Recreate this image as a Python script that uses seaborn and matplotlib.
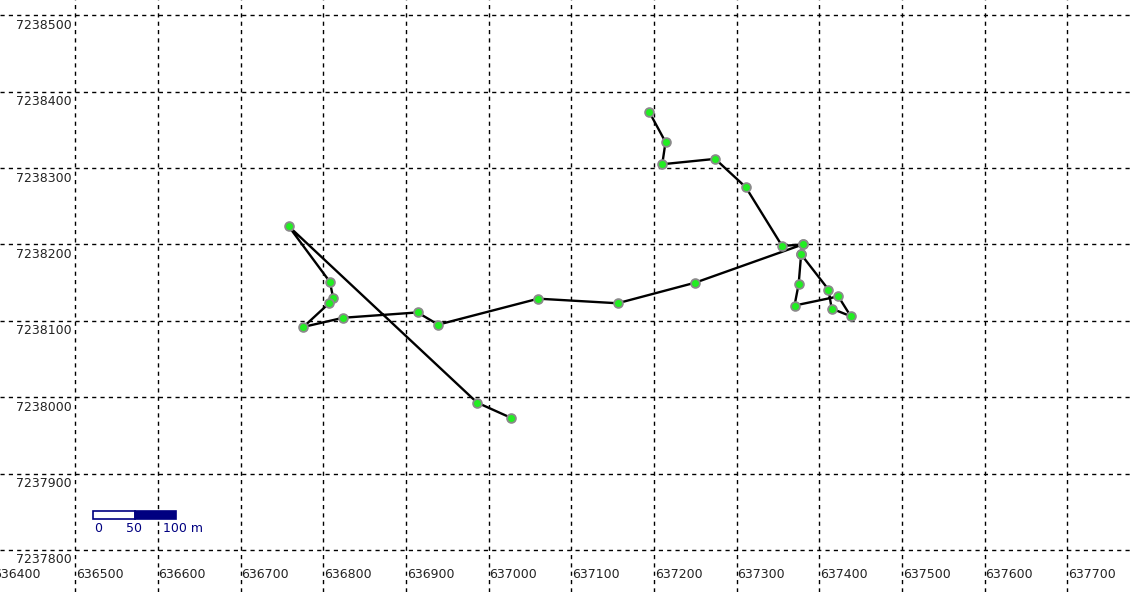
"""
plot.py - GPS track over a dashed UTM grid with a scale bar.
"""
import numpy as np
import pandas as pd
import matplotlib
matplotlib.use("Agg")
import matplotlib.pyplot as plt
from matplotlib.patches import Rectangle
import seaborn as sns

# track vertices (UTM easting / northing), in walking order
east = [637027, 636986, 636758, 636808, 636812, 636807, 636776, 636824,
        636914, 636939, 637060, 637156, 637250, 637380, 637378, 637375,
        637370, 637423, 637438, 637415, 637411, 637378, 637380, 637355,
        637311, 637274, 637210, 637214, 637194]
north = [7237973, 7237993, 7238224, 7238151, 7238130, 7238123, 7238092, 7238104,
         7238111, 7238095, 7238129, 7238123, 7238150, 7238200, 7238187, 7238148,
         7238120, 7238132, 7238106, 7238116, 7238141, 7238187, 7238200, 7238198,
         7238275, 7238312, 7238305, 7238334, 7238374]

x_ticks = list(range(636400, 637800, 100))
y_ticks = list(range(7237800, 7238600, 100))
scale_steps = [0, 50, 100]   # metres

NAVY = "#000080"

track = pd.DataFrame({"east": east, "north": north})

sns.set_style("white")
plt.rcParams["font.family"] = ["DejaVu Sans"]

fig = plt.figure(figsize=(11.31, 5.92), dpi=100)
ax = fig.add_axes([0, 0, 1, 1])

sns.lineplot(data=track, x="east", y="north", sort=False, estimator=None,
             color="black", linewidth=1.7, ax=ax)
sns.scatterplot(data=track, x="east", y="north", color="#22ee22",
                edgecolor="#8a8a8a", linewidth=1.3, s=40, zorder=3, ax=ax)

ax.set_xticks(x_ticks); ax.set_yticks(y_ticks)
ax.set_xlim(636409, 637777)
ax.set_ylim(7237745, 7238520)
ax.grid(True, color="black", linestyle=(0, (3, 3)), linewidth=1.0)
ax.tick_params(length=0, labelbottom=False, labelleft=False)
for s in ax.spines.values():
    s.set_visible(False)
ax.set_xlabel(""); ax.set_ylabel("")

# grid labels drawn inside the map frame
for xv in x_ticks:
    ax.annotate(str(xv), xy=(xv, ax.get_ylim()[0]), xytext=(0.5, 17),
                textcoords="offset points", ha="left", va="top",
                fontsize=9, color="#222222", annotation_clip=False)
for yv in y_ticks:
    ax.annotate(str(yv), xy=(636500, yv), xytext=(-2.5, -2.5),
                textcoords="offset points", ha="right", va="top",
                fontsize=9, color="#222222")

# scale bar
x0, y0, h = 636522, 7237840.5, 11
half = scale_steps[1] - scale_steps[0]
ax.add_patch(Rectangle((x0, y0), half, h, facecolor="white", edgecolor=NAVY, lw=1.2, zorder=4))
ax.add_patch(Rectangle((x0 + half, y0), scale_steps[2] - scale_steps[1], h,
                       facecolor=NAVY, edgecolor=NAVY, lw=1.2, zorder=4))
ty = 7237828
ax.text(x0 + scale_steps[0] + 1, ty, str(scale_steps[0]), ha="left", va="center",
        fontsize=9, color=NAVY)
ax.text(x0 + scale_steps[1] - 1, ty, str(scale_steps[1]), ha="center", va="center",
        fontsize=9, color=NAVY)
ax.text(x0 + scale_steps[2] - 16, ty, f"{scale_steps[2]} m", ha="left", va="center",
        fontsize=9, color=NAVY)

fig.savefig("out.png", dpi=100, facecolor="white")
print("Saved: out.png")
